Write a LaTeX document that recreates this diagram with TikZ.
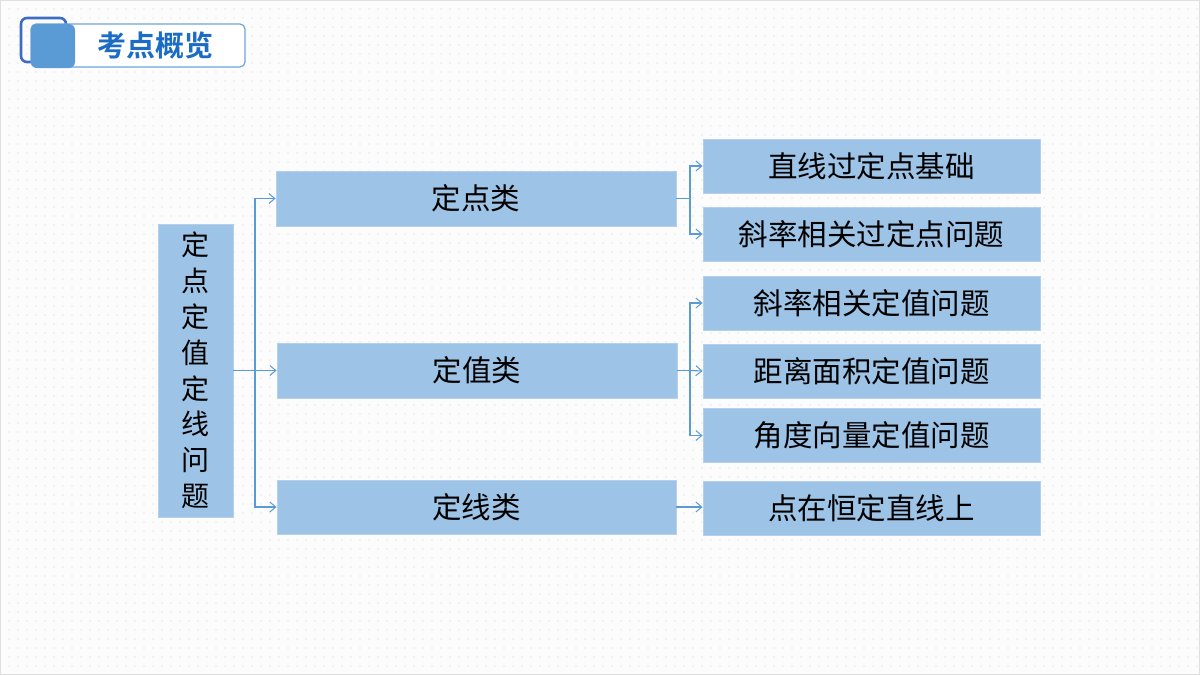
\documentclass[tikz,border=0pt]{standalone}
\usepackage{fontspec}
\setmainfont{Noto Sans CJK SC}
\newfontfamily\cjkb{Noto Sans CJK SC Bold}
\usetikzlibrary{arrows.meta,patterns.meta}
\definecolor{boxfill}{HTML}{9DC3E6}
\definecolor{boxline}{HTML}{B5D0EC}
\definecolor{conncol}{HTML}{5B9BD5}
\definecolor{hdrdark}{HTML}{3C6CC4}
\definecolor{hdrfill}{HTML}{5B9BD5}
\definecolor{hdrline}{HTML}{6FA3DA}
\definecolor{hdrtext}{HTML}{1B6CC4}
\definecolor{bgcol}{HTML}{FCFCFC}
\definecolor{dotcol}{HTML}{D2D2D2}
\tikzset{
  box/.style={draw=boxline, line width=0.8pt, fill=boxfill, inner sep=0pt,
    font=\fontsize{29.5}{32}\selectfont, text=black},
  conn/.style={draw=conncol, line width=1.1pt},
  arr/.style={conn, -{Straight Barb[length=6pt,width=10pt,line width=1pt]}},
}
\begin{document}
\begin{tikzpicture}[x=1pt,y=-1pt]
\useasboundingbox (0,0) rectangle (1200,675);
\fill[bgcol] (0,0) rectangle (1200,675);
\fill[pattern={Dots[radius=0.55pt,distance=9pt]}, pattern color=dotcol] (0,0) rectangle (1200,675);
\draw[gray!25, line width=1pt] (0.5,0.5) rectangle (1199.5,674.5);
% header
\draw[hdrdark, line width=2.6pt, rounded corners=6pt] (21,18) rectangle (66,62);
\draw[hdrline, line width=1.2pt, fill=white, rounded corners=5pt] (31,24) rectangle (245,67);
\fill[hdrfill, rounded corners=6pt] (31,24) rectangle (75,68);
\node[font=\cjkb\fontsize{29}{32}\selectfont, text=hdrtext] (hdr) at (155,45) {考点概览};
% root
\node[box, minimum width=75pt, minimum height=293pt, align=center,
  font=\fontsize{28}{35.8}\selectfont] (root) at (195.5,370.5)
  {定\\点\\定\\值\\定\\线\\问\\题};
% middle
\node[box, minimum width=400pt, minimum height=55pt] (m1) at (476,198.5) {定点类};
\node[box, minimum width=400pt, minimum height=55pt] (m2) at (477,370.5) {定值类};
\node[box, minimum width=399pt, minimum height=54pt] (m3) at (476.5,507) {定线类};
% right
\node[box, minimum width=337pt, minimum height=54pt] (r1) at (871.5,166) {直线过定点基础};
\node[box, minimum width=337pt, minimum height=54pt] (r2) at (871.5,234) {斜率相关过定点问题};
\node[box, minimum width=337pt, minimum height=54pt] (r3) at (871.5,303) {斜率相关定值问题};
\node[box, minimum width=337pt, minimum height=54pt] (r4) at (871.5,371) {距离面积定值问题};
\node[box, minimum width=337pt, minimum height=54pt] (r5) at (871.5,435.5) {角度向量定值问题};
\node[box, minimum width=337pt, minimum height=54pt] (r6) at (871.5,508) {点在恒定直线上};
% junctions
\coordinate (j0) at (255,370.5);
\coordinate (j1) at (690,198.5);
\coordinate (j2) at (690,370.5);
% connectors
\draw[conn] (root.east) -- (j0);
\draw[arr] (j0) |- (m1.west);
\draw[arr] (j0) -- (m2.west);
\draw[arr] (j0) |- (m3.west);
\draw[conn] (m1.east) -- (j1);
\draw[arr] (j1) |- (r1.west);
\draw[arr] (j1) |- (r2.west);
\draw[conn] (m2.east) -- (j2);
\draw[arr] (j2) |- (r3.west);
\draw[arr] (j2) -- (r4.west);
\draw[arr] (j2) |- (r5.west);
\draw[arr] (m3.east) -- (r6.west |- m3.east);
\end{tikzpicture}
\end{document}
